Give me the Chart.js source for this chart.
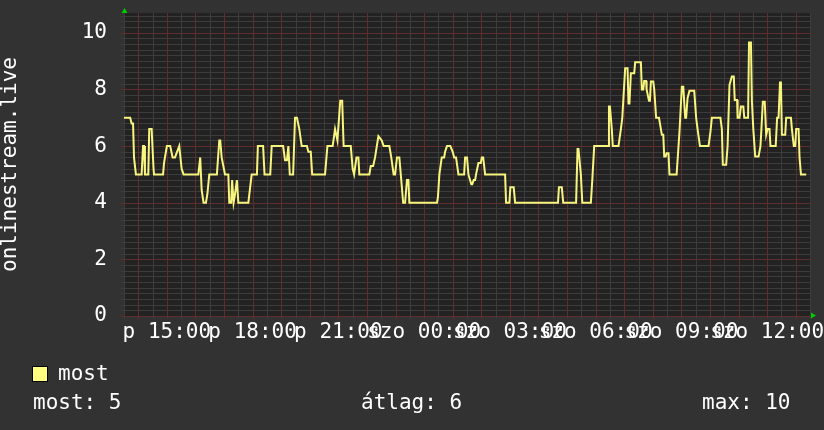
<!DOCTYPE html>
<html><head><meta charset="utf-8">
<script src="https://cdn.jsdelivr.net/npm/chart.js@4/dist/chart.umd.min.js"></script>
<style>
html,body{margin:0;padding:0;background:#323232;}
#wrap{position:relative;width:824px;height:430px;overflow:hidden;}
canvas{position:absolute;left:0;top:0;}
.t{position:absolute;font-family:"DejaVu Sans Mono",monospace;font-size:21px;line-height:21px;color:#fff;white-space:pre;}
.box{position:absolute;left:32px;top:366px;width:14px;height:14px;background:#ffff80;border:1px solid #000;}
</style></head><body>
<div id="wrap">
<canvas id="c" width="824" height="430"></canvas>
<div class="box"></div>
<div class="t" style="left:58px;top:363px;">most</div>
<div class="t" style="left:33px;top:392px;">most: 5</div>
<div class="t" style="left:361px;top:392px;">átlag: 6</div>
<div class="t" style="left:702px;top:392px;">max: 10</div>
</div>
<script>
// time in minutes since 13:30 (Friday)
const minutes = [0,13,16,19,21,25,37,40,42,44,51,53,58,62,63,82,84,90,97,102,107,116,121,125,156,160,163,167,172,175,179,195,200,202,205,212,219,221,225,227,230,233,237,240,261,268,279,281,292,295,307,310,334,338,342,345,348,355,359,363,368,373,384,387,392,395,422,427,438,443,448,454,458,461,476,480,483,488,492,494,515,518,523,527,534,541,545,557,561,566,569,573,578,581,586,590,594,597,599,657,659,662,667,672,674,678,685,690,693,697,702,714,716,720,723,729,731,734,737,739,744,749,751,754,758,800,802,809,811,818,821,911,913,919,922,949,952,954,959,962,980,983,987,1016,1018,1020,1024,1026,1038,1043,1046,1052,1057,1059,1061,1064,1071,1073,1085,1087,1090,1092,1096,1097,1102,1104,1106,1111,1113,1117,1123,1127,1129,1132,1134,1137,1139,1143,1145,1160,1164,1166,1171,1174,1178,1180,1183,1187,1197,1201,1204,1209,1227,1231,1234,1252,1255,1257,1264,1267,1271,1276,1280,1282,1287,1288,1292,1295,1300,1302,1310,1312,1316,1318,1321,1325,1332,1336,1338,1341,1345,1348,1351,1355,1357,1368,1371,1374,1377,1379,1381,1388,1390,1400,1402,1406,1409,1411,1416,1418,1421,1432];
const most = [7,7,6.8,6.8,5.6,5,5,6,6,5,5,6.6,6.6,5.2,5,5,5.4,6,6,5.6,5.6,6,5.2,5,5,5.6,4.45,4,4,4.3,5,5,6.2,6.2,5.6,5,5,4,4,4.8,4,4.3,4.8,4,4,5,5,6,6,5,5,6,6,5.5,5.5,6,5,5,7,7,6.6,6,6,5.8,5.8,5,5,6,6,6.6,6.2,7.6,7.6,6,6,5.2,5,5.6,5.6,5,5,5.3,5.3,5.6,6.35,6.2,6,6,5.6,5,5,5.6,5.6,5,4,4,4.8,4.8,4,4,4.2,5,5.6,5.6,5.8,6,6,5.8,5.6,5.6,5,5,5.6,5.6,5,4.65,4.65,4.8,4.8,5,5.4,5.4,5.6,5.6,5,5,4,4,4.55,4.55,4,4,4.55,4.55,4,4,5.9,5.9,5,4,4,4.8,6,6,7.4,7.4,6.6,6,6,6.6,7,8.75,8.75,7.5,7.5,8.57,8.57,8.96,8.96,8,8,8.3,8.3,8,7.6,7.6,8.28,8.28,8,7,7,6.6,6.4,6.4,5.63,5.63,5.75,5.75,5,5,6,6.5,8.1,8.1,7,7,7.7,7.95,7.95,7,6.6,6,6,6.5,7,7,6.6,5.34,5.34,6,8.16,8.46,8.46,7.63,7.63,7,7,7.4,7.4,7,7,9.66,9.66,7.6,6.6,5.63,5.63,6,6.6,7.57,7.57,6.4,6.6,6.6,6,6,7,7,8.25,8.25,6.4,6.4,7,7,6.6,6,6,6.6,6.6,5.6,5,5];
const xLabelMinutes = [90,270,450,630,810,990,1170,1350];
const xLabelTexts = ['p 15:00','p 18:00','p 21:00','szo 00:00','szo 03:00','szo 06:00','szo 09:00','szo 12:00'];
const yLabelValues = [0,2,4,6,8,10];
const seriesName = 'most';
const axisTitle = 'onlinestream.live';

const RED = '#5e2e2e';
const GREY = '#3c3c3c';
const FONT = {family:'"DejaVu Sans Mono", monospace', size:21};

const bg = {
  id:'bg',
  beforeDraw(chart){
    const {ctx, chartArea:a} = chart;
    ctx.save();
    ctx.fillStyle = '#323232';
    ctx.fillRect(0,0,chart.width,chart.height);
    ctx.fillStyle = '#222222';
    ctx.fillRect(a.left,a.top,a.right-a.left,a.bottom-a.top);
    ctx.restore();
  },
  beforeDatasetsDraw(chart){
    const ctx = chart.ctx, a = chart.chartArea;
    const xs = chart.scales.x, ys = chart.scales.y;
    const L = Math.round(a.left), R = Math.round(a.right), T = Math.round(a.top), B = Math.round(a.bottom);
    ctx.save();
    for (const major of [false, true]) {
      ctx.fillStyle = major ? RED : GREY;
      for (let k = 0; k <= 53; k++) {
        if ((k % 10 === 0) !== major) continue;
        const py = Math.round(ys.getPixelForValue(k / 5));
        if (py < T || py > B) continue;
        ctx.fillRect(L, py, R - L, 1);
        ctx.fillRect(L - 3, py, 3, 1);
      }
      for (let k = 0; k <= 48; k++) {
        if ((k % 2 === 1) !== major) continue;
        const px = Math.round(xs.getPixelForValue(k * 30));
        if (px < L || px > R) continue;
        ctx.fillRect(px, T, 1, B - T);
        ctx.fillRect(px, B, 1, 3);
      }
    }
    ctx.restore();
  },
  afterDraw(chart){
    const {ctx, chartArea:a} = chart;
    ctx.save();
    ctx.fillStyle = '#00cc00';
    ctx.beginPath();
    ctx.moveTo(a.left-2.5, a.top); ctx.lineTo(a.left+3.5, a.top); ctx.lineTo(a.left+0.5, a.top-5); ctx.closePath(); ctx.fill();
    ctx.beginPath();
    ctx.moveTo(a.right+1, a.bottom-3.5); ctx.lineTo(a.right+1, a.bottom+2.5); ctx.lineTo(a.right+6, a.bottom-0.5); ctx.closePath(); ctx.fill();
    ctx.restore();
  }
};

new Chart(document.getElementById('c'), {
  type:'line',
  data:{datasets:[{
    label: seriesName,
    data: minutes.map((m,i)=>({x:m, y:most[i]})),
    borderColor:'#f8f57e', borderWidth:2, pointRadius:0, tension:0, fill:false
  }]},
  options:{
    responsive:false, animation:false, events:[],
    layout:{padding:{left:0, top:13, right:14, bottom:84}},
    plugins:{legend:{display:false}, tooltip:{enabled:false}},
    scales:{
      x:{
        type:'linear', min:0, max:1440,
        ticks:{stepSize:30, autoSkip:false, maxRotation:0, minRotation:0, includeBounds:false,
          color:'#ffffff', font:FONT, padding:4,
          callback:(v)=>{const i = xLabelMinutes.indexOf(v); return i>=0 ? xLabelTexts[i] : '';}},
        grid:{display:false, drawTicks:false},
        border:{display:false},
        afterFit(s){ s.height = 30; s.paddingLeft = 0; s.paddingRight = 0; }
      },
      y:{
        min:0, max:10.7,
        ticks:{stepSize:0.2, autoSkip:false, includeBounds:false, color:'#ffffff', font:FONT, padding:17,
          callback:(v)=>{const r=Math.round(v*10)/10; return yLabelValues.includes(r) ? String(r) : '';}},
        grid:{display:false, drawTicks:false},
        border:{display:false},
        title:{display:true, text:axisTitle, color:'#ffffff', font:FONT, padding:{top:-2,bottom:0}},
        afterFit(s){ s.width = 124; s.paddingTop = 0; s.paddingBottom = 0; }
      }
    }
  },
  plugins:[bg]
});
</script>
</body></html>
